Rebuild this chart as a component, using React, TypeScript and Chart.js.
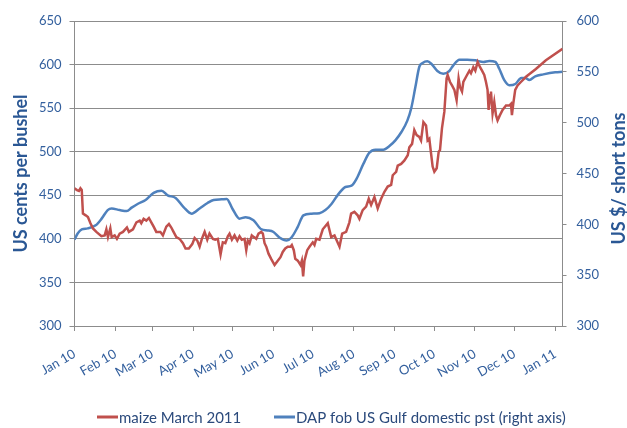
import React, { useEffect, useRef } from "react";
import { Chart, registerables } from "chart.js";

Chart.register(...registerables);

// ---- Data ----
const MONTH_TICK_DAYS = [0, 31, 59, 90, 120, 151, 181, 212, 243, 273, 304, 334, 365];
const MONTH_LABELS = ["Jan 10", "Feb 10", "Mar 10", "Apr 10", "May 10", "Jun 10", "Jul 10", "Aug 10", "Sep 10", "Oct 10", "Nov 10", "Dec 10", "Jan 11"];
const X_MAX_DAY = 370.5;

const LEFT_MIN = 300;
const LEFT_MAX = 650;
const RIGHT_MIN = 300;
const RIGHT_MAX = 600;
const AXIS_STEP = 50;

const SERIES_NAMES = ["maize March 2011", "DAP fob US Gulf domestic pst (right axis)"];
const LEFT_TITLE = "US cents per bushel";
const RIGHT_TITLE = "US $/ short tons";

// maize March 2011 (left axis), day offset from 1 Jan 2010
const MAIZE_DAYS = [
  0, 1.9, 3.4, 4.5, 5.5, 6.4, 8.5, 10.2, 12.1, 14.0,
  16.6, 20.4, 22.9, 24.2, 25.4, 27.2, 28.2, 30.5, 32.2, 34.3,
  36.8, 39.8, 41.3, 44.4, 47.0, 49.5, 50.7, 52.5, 54.5, 56.5,
  58.3, 60.1, 62.1, 65.2, 67.1, 69.7, 71.7, 73.5, 75.2, 77.3,
  79.8, 82.3, 84.3, 86.8, 89.4, 91.2, 93.2, 95.0, 96.7, 98.8,
  100.8, 102.5, 105.1, 106.9, 108.8, 110.9, 112.6, 114.5, 116.4, 117.7,
  119.5, 121.5, 123.6, 125.3, 127.0, 129.1, 130.4, 131.6, 132.9, 134.6,
  136.2, 138.0, 139.7, 141.8, 143.0, 144.3, 145.6, 147.3, 149.3, 151.9,
  153.9, 156.4, 158.1, 160.0, 161.9, 164.0, 165.0, 166.5, 167.6, 169.5,
  171.6, 172.6, 173.6, 174.6, 176.7, 178.4, 180.9, 182.2, 183.5, 186.0,
  188.5, 192.3, 194.9, 197.4, 201.2, 203.2, 206.2, 208.7, 210.0, 212.5,
  215.0, 216.3, 218.8, 221.4, 223.4, 225.2, 227.7, 230.2, 232.8, 235.3,
  237.8, 240.4, 241.6, 244.2, 245.4, 248.0, 250.5, 253.0, 254.2, 256.3,
  258.0, 259.8, 261.8, 263.1, 264.9, 266.9, 268.1, 269.4, 270.7, 271.9,
  273.2, 275.0, 276.5, 277.5, 279.0, 280.8, 282.5, 283.3, 285.1, 286.6,
  288.4, 290.1, 291.6, 292.7, 294.2, 295.2, 297.3, 299.8, 301.0, 302.8,
  304.3, 306.1, 307.9, 309.4, 311.1, 312.4, 313.6, 314.4, 315.5, 316.2,
  317.4, 318.7, 320.0, 321.2, 323.0, 325.0, 327.6, 330.1, 331.4, 332.1,
  333.1, 334.6, 336.4, 338.9, 342.8, 350.3, 357.9, 370.5,
];
const MAIZE_VALUES = [
  458, 456, 455, 458, 456, 429, 427, 425, 418, 412,
  408, 403, 404, 411, 402, 412, 402, 404, 400, 406,
  408, 413, 408, 411, 419, 421, 418, 423, 421, 424,
  419, 414, 408, 408, 404, 414, 417, 413, 408, 402,
  400, 395, 389, 389, 394, 401, 398, 391, 400, 408,
  399, 406, 400, 399, 400, 382, 396, 395, 403, 406,
  399, 404, 398, 403, 399, 400, 387, 398, 395, 404,
  402, 400, 406, 408, 406, 395, 391, 383, 377, 370,
  374, 379, 385, 389, 391, 391, 393, 387, 377, 375,
  370, 375, 357, 375, 387, 391, 396, 393, 400, 399,
  411, 418, 402, 404, 391, 406, 408, 419, 429, 431,
  427, 423, 433, 437, 446, 439, 448, 435, 446, 454,
  460, 462, 473, 477, 484, 486, 490, 496, 505, 509,
  525, 519, 517, 513, 534, 530, 513, 515, 498, 483,
  477, 481, 500, 502, 527, 546, 584, 588, 580, 576,
  571, 559, 584, 574, 569, 580, 586, 593, 590, 597,
  593, 603, 597, 593, 588, 580, 571, 548, 565, 569,
  544, 557, 542, 536, 542, 548, 553, 553, 555, 542,
  555, 571, 576, 580, 586, 595, 605, 618,
];

// DAP fob US Gulf (right axis)
const DAP_DAYS = [
  0, 2.4, 5.5, 10.0, 16.1, 20.6, 25.2, 28.2, 34.3, 39.7,
  43.4, 47.9, 54.0, 60.1, 66.1, 70.7, 76.8, 82.8, 88.9, 95.0,
  101.0, 105.6, 111.7, 115.6, 119.8, 125.3, 129.9, 135.9, 142.0, 146.5,
  151.1, 155.6, 161.1, 164.7, 169.3, 173.8, 179.9, 186.0, 190.5, 195.1,
  200.5, 205.7, 210.3, 214.2, 219.4, 223.9, 228.5, 234.5, 239.1, 243.6,
  248.2, 252.7, 255.8, 258.8, 261.8, 264.3, 267.9, 270.9, 275.5, 280.0,
  284.6, 287.6, 292.2, 298.2, 304.3, 310.4, 314.9, 319.5, 322.5, 326.2,
  330.1, 334.7, 339.2, 342.3, 345.3, 349.8, 355.9, 365.0, 370.5,
];
const DAP_VALUES = [
  385, 391, 395, 396, 399, 405.6, 414, 415.6, 414, 413,
  416.4, 420, 424, 431, 433, 428.5, 426, 417, 410.5, 415.6,
  421, 424, 424.6, 425, 415.6, 405.6, 407, 404, 395, 394,
  392.5, 387, 384, 387, 397, 408.8, 410.5, 411, 414, 420,
  430, 436.7, 438, 445, 459.7, 470.5, 473.4, 473.4, 477, 482.6,
  490.8, 502, 515, 535, 555, 558.7, 560.3, 558, 550.8, 548,
  550.8, 556.4, 562, 562, 561.3, 559.7, 560.7, 559.7, 553, 542,
  536.7, 538, 544, 544, 542, 545.6, 547.5, 549.5, 550,
];

// ---- Styles ----
const RED = "#C0504D";
const BLUE = "#4F81BD";
const GRID = "#8C8C8C";
const TICK_COLOR = "#34609E";
const TITLE_COLOR = "#2A5794";
const LEGEND_COLOR = "#2B4A7C";
const FONT = "Lato, 'Open Sans', sans-serif";

const overlayPlugin = {
  id: "overlay",
  afterDraw(chart: any) {
    const ctx = chart.ctx as CanvasRenderingContext2D;
    const y1 = chart.scales.y1;
    // right axis title, reading bottom-to-top
    ctx.save();
    ctx.font = `bold 18px ${FONT}`;
    ctx.fillStyle = TITLE_COLOR;
    ctx.translate(619, (y1.top + y1.bottom) / 2 + 5);
    ctx.rotate(-Math.PI / 2);
    ctx.textAlign = "center";
    ctx.textBaseline = "middle";
    ctx.fillText(RIGHT_TITLE, 0, 0);
    ctx.restore();

    // legend
    const starts = [97, 274];
    ctx.save();
    ctx.font = `15px ${FONT}`;
    ctx.textBaseline = "alphabetic";
    ctx.textAlign = "left";
    chart.data.datasets.forEach((ds: any, i: number) => {
      const x = starts[i];
      ctx.strokeStyle = ds.borderColor;
      ctx.lineWidth = 3;
      ctx.beginPath();
      ctx.moveTo(x, 417);
      ctx.lineTo(x + 21, 417);
      ctx.stroke();
      ctx.fillStyle = LEGEND_COLOR;
      ctx.fillText(ds.label, x + 22, 423);
    });
    ctx.restore();
  },
};

export default function App() {
  const canvasRef = useRef<HTMLCanvasElement | null>(null);

  useEffect(() => {
    const canvas = canvasRef.current;
    if (!canvas) return;
    const chart = new Chart(canvas, {
      type: "line",
      data: {
        datasets: [
          {
            label: SERIES_NAMES[0],
            data: MAIZE_DAYS.map((d, i) => ({ x: d, y: MAIZE_VALUES[i] })),
            borderColor: RED,
            backgroundColor: RED,
            borderWidth: 2.5,
            pointRadius: 0,
            tension: 0,
            yAxisID: "y",
          },
          {
            label: SERIES_NAMES[1],
            data: DAP_DAYS.map((d, i) => ({ x: d, y: DAP_VALUES[i] })),
            borderColor: BLUE,
            backgroundColor: BLUE,
            borderWidth: 2.5,
            pointRadius: 0,
            cubicInterpolationMode: "monotone",
            yAxisID: "y1",
          },
        ],
      },
      options: {
        animation: false,
        responsive: false,
        maintainAspectRatio: false,
        layout: { padding: { top: 21, left: 0, right: 0, bottom: 0 } },
        plugins: {
          legend: { display: false },
          tooltip: { enabled: false },
        },
        scales: {
          x: {
            type: "linear",
            min: 0,
            max: X_MAX_DAY,
            afterBuildTicks: (scale: any) => {
              scale.ticks = MONTH_TICK_DAYS.map((v) => ({ value: v }));
            },
            afterFit: (scale: any) => {
              scale.height = 102;
            },
            grid: { display: true, drawOnChartArea: false, drawTicks: true, tickLength: 5, color: GRID },
            border: { display: true, color: GRID, width: 1 },
            ticks: {
              autoSkip: false,
              minRotation: 30,
              maxRotation: 30,
              padding: 15,
              color: TICK_COLOR,
              font: { family: FONT, size: 13 },
              callback: (value: any) => {
                const idx = MONTH_TICK_DAYS.indexOf(Number(value));
                return idx >= 0 ? MONTH_LABELS[idx] : "";
              },
            },
          },
          y: {
            position: "left",
            min: LEFT_MIN,
            max: LEFT_MAX,
            afterFit: (scale: any) => {
              scale.width = 74.5;
            },
            grid: { color: GRID, lineWidth: 1, drawTicks: true, tickLength: 5 },
            border: { display: true, color: GRID, width: 1 },
            ticks: {
              stepSize: AXIS_STEP,
              padding: 8,
              color: TICK_COLOR,
              font: { family: FONT, size: 13 },
            },
            title: {
              display: true,
              text: LEFT_TITLE,
              color: TITLE_COLOR,
              font: { family: FONT, size: 18, weight: "bold" },
              padding: { top: 10, bottom: 0 },
            },
          },
          y1: {
            position: "right",
            min: RIGHT_MIN,
            max: RIGHT_MAX,
            afterFit: (scale: any) => {
              scale.width = 64.5;
            },
            grid: { drawOnChartArea: false, drawTicks: true, tickLength: 4, color: GRID },
            border: { display: true, color: GRID, width: 1 },
            ticks: {
              stepSize: AXIS_STEP,
              padding: 10,
              color: TICK_COLOR,
              font: { family: FONT, size: 13 },
            },
          },
        },
      },
      plugins: [overlayPlugin],
    } as any);
    return () => chart.destroy();
  }, []);

  return (
    <div style={{ position: "fixed", left: 0, top: 0, width: 627, height: 428, background: "#fff" }}>
      <canvas ref={canvasRef} width={627} height={428} style={{ display: "block", width: 627, height: 428 }} />
    </div>
  );
}
